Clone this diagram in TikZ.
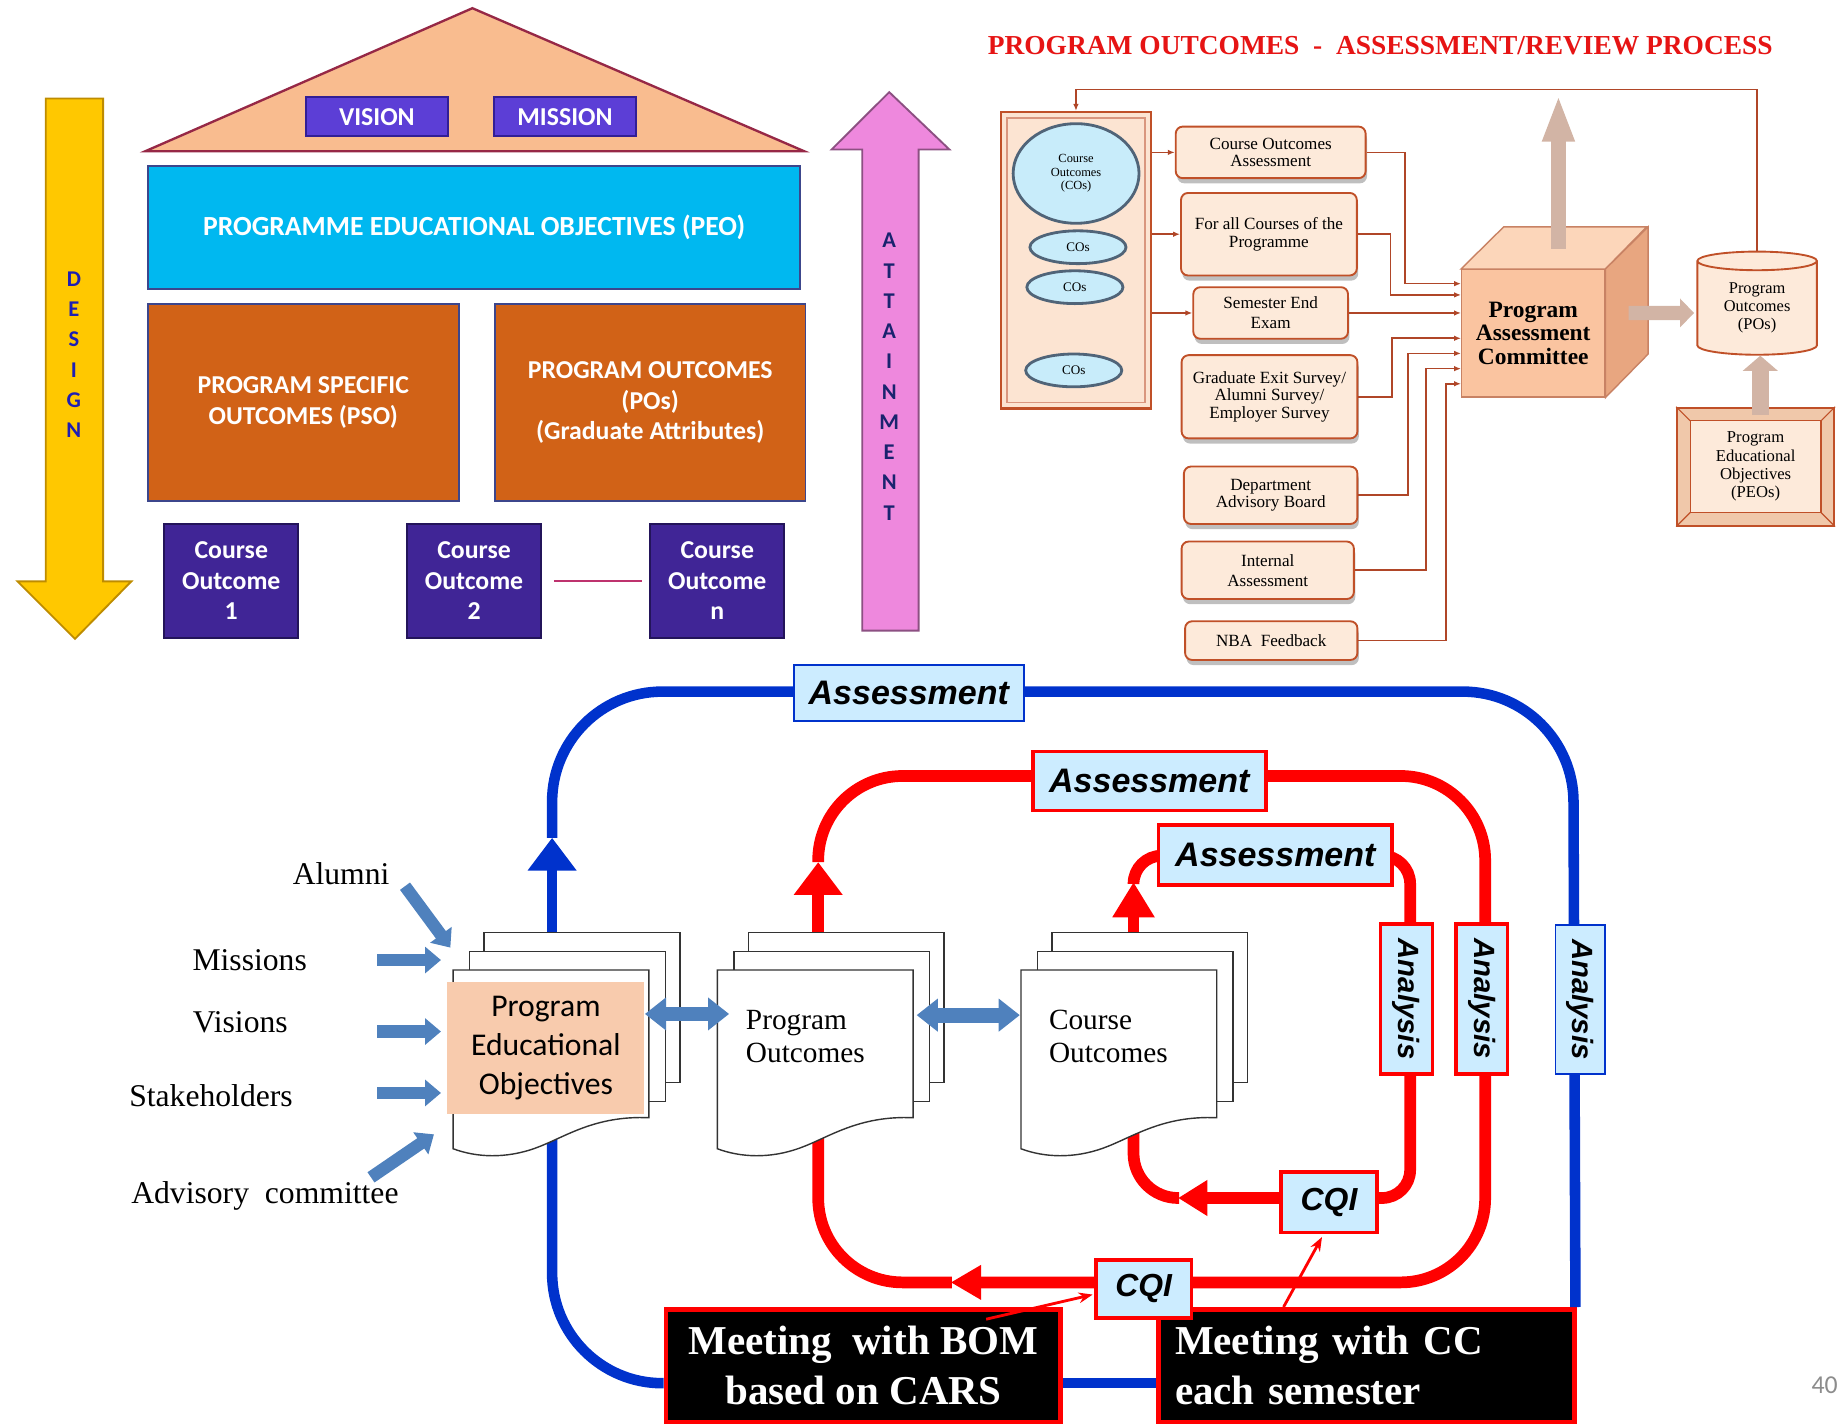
\documentclass[tikz,border=0pt]{standalone}
\usepackage{fontspec}
\setmainfont{Liberation Serif}
\setsansfont{Liberation Sans}
\newfontfamily\calibri{Carlito}
\usetikzlibrary{positioning, arrows.meta, shapes.geometric, calc, shadows}

\definecolor{roofpeach}{RGB}{249,188,143}
\definecolor{roofedge}{RGB}{150,40,70}
\definecolor{vmpurple}{RGB}{92,62,214}
\definecolor{vmedge}{RGB}{50,30,150}
\definecolor{peocyan}{RGB}{0,184,240}
\definecolor{outorange}{RGB}{209,98,23}
\definecolor{codeep}{RGB}{64,37,150}
\definecolor{coedge}{RGB}{35,20,90}
\definecolor{houseedge}{RGB}{60,70,140}
\definecolor{designyellow}{RGB}{255,200,0}
\definecolor{designedge}{RGB}{190,140,0}
\definecolor{designblue}{RGB}{30,30,180}
\definecolor{attpink}{RGB}{238,136,221}
\definecolor{attedge}{RGB}{140,80,130}
\definecolor{attnavy}{RGB}{25,35,110}
\definecolor{linkpink}{RGB}{190,50,110}
\definecolor{titlered}{RGB}{230,20,20}
\definecolor{boxfill}{RGB}{253,234,218}
\definecolor{boxedge}{RGB}{192,80,40}
\definecolor{flowline}{RGB}{176,70,40}
\definecolor{panelfill}{RGB}{252,228,210}
\definecolor{ellfill}{RGB}{200,236,250}
\definecolor{elledge}{RGB}{80,100,120}
\definecolor{cubefront}{RGB}{250,196,160}
\definecolor{cubetop}{RGB}{252,214,186}
\definecolor{cubeside}{RGB}{232,166,128}
\definecolor{cubeedge}{RGB}{200,130,100}
\definecolor{fatfill}{RGB}{210,180,165}
\definecolor{bevelfill}{RGB}{240,200,170}
\definecolor{loopblue}{RGB}{0,50,204}
\definecolor{loopred}{RGB}{255,0,0}
\definecolor{tagfill}{RGB}{204,236,255}
\definecolor{inblue}{RGB}{79,129,189}
\definecolor{docpeach}{RGB}{248,203,173}

% stack of three pages, front page top left at (#2,#3)
\newcommand{\docstack}[3]{%
  \begin{scope}[shift={(#2,#3)}]
    \draw[page] (26.4,-32) rectangle ++(167,128);
    \draw[page] (14,-16) rectangle ++(167,128);
    \draw[page] (0,0) -- (167,0) -- (167,126) .. controls (120,124) and (95,143) .. (70,152)
        .. controls (45,161) and (20,160) .. (0,152.5) -- cycle;
    \coordinate (#1) at (0,64);
  \end{scope}}

\begin{document}
\begin{tikzpicture}[
    x=0.5pt, y=-0.5pt,
    hbox/.style={draw=houseedge, line width=0.8pt, text=white, align=center, inner sep=0pt,
        font=\calibri\bfseries\fontsize{11}{13}\selectfont},
    vmbox/.style={hbox, fill=vmpurple, draw=vmedge, minimum width=60.5pt, minimum height=16.5pt},
    peobar/.style={hbox, fill=peocyan, minimum width=278pt, minimum height=52.5pt,
        font=\calibri\bfseries\fontsize{11.8}{13}\selectfont},
    outbox/.style={hbox, fill=outorange, minimum width=132.5pt, minimum height=84pt},
    cobox/.style={hbox, fill=codeep, draw=coedge, minimum width=57.2pt, minimum height=48.8pt},
    letter/.style={font=\calibri\bfseries\fontsize{9.6}{10}\selectfont, inner sep=0pt},
    flowbox/.style={draw=boxedge, fill=boxfill, line width=0.8pt, rounded corners=3pt, align=center,
        inner sep=0pt, font=\fontsize{7.3}{7.6}\selectfont,
        drop shadow={shadow xshift=0.6pt, shadow yshift=-2.2pt, opacity=0.5}},
    conn/.style={draw=flowline, line width=0.7pt, -{Latex[length=3pt,width=2.4pt]}},
    coell/.style={ellipse, draw=elledge, line width=1.2pt, fill=ellfill, inner sep=0pt, align=center,
        font=\fontsize{5.6}{6}\selectfont},
    fatarr/.style={draw=fatfill, line width=6.5pt},
    src/.style={font=\fontsize{13.5}{16}\selectfont},
    inarr/.style={draw=inblue, line width=5.3pt, -{Triangle[width=11pt,length=6.8pt]}},
    dblarr/.style={draw=inblue, line width=6.3pt,
        {Triangle[width=13.5pt,length=9pt]}-{Triangle[width=13.5pt,length=9pt]}},
    page/.style={draw=black!80, fill=white, line width=0.6pt},
    doctext/.style={align=left, inner sep=0pt, font=\fontsize{12.5}{14}\selectfont},
    blueloop/.style={draw=loopblue, line width=4.5pt},
    redloop/.style={draw=loopred, line width=5pt},
    tag/.style={fill=tagfill, inner sep=0pt, font=\sffamily\bfseries\itshape\fontsize{14.5}{15}\selectfont},
    bluetag/.style={tag, draw=loopblue, line width=0.8pt},
    redtag/.style={tag, draw=loopred, line width=1.6pt},
    meeting/.style={fill=black, draw=loopred, line width=2pt, text=white, inner sep=0pt,
        font=\bfseries\fontsize{17.5}{21.5}\selectfont},
    thinred/.style={draw=loopred, line width=1.2pt, -{Stealth[length=6pt,width=4.5pt]}}
]
\useasboundingbox (0,0) rectangle (1568,1215);

    % --- House of outcomes ---
    \draw[draw=roofedge, fill=roofpeach, line width=1pt] (124,129) -- (403,7) -- (686,129) -- cycle;
    \node[vmbox] (vision) at (321.5,99.5) {VISION};
    \node[vmbox] (mission) at (482,99.5) {MISSION};
    \node[peobar] (peo) at (404.5,194.2) {PROGRAMME EDUCATIONAL OBJECTIVES (PEO)};
    \node[outbox] (pso) at (258.7,343.4) {PROGRAM SPECIFIC\\OUTCOMES (PSO)};
    \node[outbox] (pos) at (554.7,343.4) {PROGRAM OUTCOMES\\(POs)\\(Graduate Attributes)};
    \node[cobox] (co1) at (197.3,495.6) {Course\\Outcome\\1};
    \node[cobox] (co2) at (404.4,495.6) {Course\\Outcome\\2};
    \node[cobox] (con) at (611.9,495.6) {Course\\Outcome\\n};
    \draw[draw=linkpink, line width=1.2pt, shorten <=5pt, shorten >=3pt] (co2) -- (con);

    % Design (down) and Attainment (up)
    \draw[draw=designedge, fill=designyellow, line width=0.8pt]
        (39,84) -- (88,84) -- (88,496) -- (112,496) -- (64,545) -- (15,496) -- (39,496) -- cycle;
    \foreach \ch [count=\i from 0] in {D,E,S,I,G,N}
        \node[letter, text=designblue] (design\i) at (63,238.3+25.7*\i) {\ch};
    \draw[draw=attedge, fill=attpink, line width=0.8pt]
        (735.6,538) -- (783.7,538) -- (783.7,127.5) -- (809.9,127.5) -- (758.6,78.6)
        -- (709.5,127.5) -- (735.6,127.5) -- cycle;
    \foreach \ch [count=\i from 0] in {A,T,T,A,I,N,M,E,N,T}
        \node[letter, text=attnavy] (attain\i) at (758.6,205.3+25.8*\i) {\ch};

    % --- Assessment / review process ---
    \node[font=\bfseries\fontsize{11.7}{12}\selectfont, text=titlered] (title) at (1177.5,38.8)
        {PROGRAM OUTCOMES\ \ -\ \ ASSESSMENT/REVIEW PROCESS};

    \node[draw=boxedge, fill=panelfill, line width=0.9pt, minimum width=64pt, minimum height=126.5pt] (panel) at (917.9,222) {};
    \draw[draw=boxedge!60, line width=0.5pt] ($(panel.north west)+(6,6)$) rectangle ($(panel.south east)+(-6,-6)$);
    \node[coell, minimum width=53.7pt, minimum height=42.5pt, font=\fontsize{5.3}{5.8}\selectfont] (cobig) at (918,148) {Course\\Outcomes\\(COs)};
    \node[coell, minimum width=41pt, minimum height=14pt] (cos1) at (919.6,210.9) {COs};
    \node[coell, minimum width=41pt, minimum height=14pt] (cos2) at (917,245) {COs};
    \node[coell, minimum width=41pt, minimum height=14pt] (cos3) at (916,316) {COs};

    \node[flowbox, minimum width=81pt, minimum height=22pt] (coassess) at (1084,130) {Course Outcomes\\Assessment};
    \node[flowbox, minimum width=75pt, minimum height=35.2pt] (allcourses) at (1082.5,199.8) {For all Courses of the\\Programme};
    \node[flowbox, minimum width=66pt, minimum height=22pt, font=\fontsize{7.3}{8.6}\selectfont] (semexam) at (1084,267) {Semester End\\Exam};
    \node[flowbox, minimum width=75pt, minimum height=35.5pt] (survey) at (1083,338.5) {Graduate Exit Survey/\\Alumni Survey/\\Employer Survey};
    \node[flowbox, minimum width=74pt, minimum height=24.5pt] (advboard) at (1084,422.5) {Department\\Advisory Board};
    \node[flowbox, minimum width=73.5pt, minimum height=24.5pt, font=\fontsize{7.3}{8.6}\selectfont] (internal) at (1081.5,486.5) {Internal\\Assessment};
    \node[flowbox, minimum width=73.5pt, minimum height=16.5pt] (nba) at (1084.5,546.5) {NBA\ \ Feedback};

    % Program Assessment Committee (cube)
    \node[draw=cubeedge, fill=cubefront, line width=0.6pt, minimum width=61pt, minimum height=54.25pt,
        inner sep=0pt, align=center, font=\bfseries\fontsize{10}{10}\selectfont] (pac) at (1308,284.3)
        {Program\\Assessment\\Committee};
    \draw[draw=cubeedge, fill=cubetop, line width=0.6pt] (pac.north west) -- ++(36.4,-35.9) -- ++(122,0) -- (pac.north east) -- cycle;
    \draw[draw=cubeedge, fill=cubeside, line width=0.6pt] (pac.north east) -- ++(36.4,-35.9) -- ++(0,108.5) -- (pac.south east) -- cycle;

    \draw[conn] (panel.east |- coassess.west) -- (coassess.west);
    \draw[conn] (panel.east |- allcourses.west) -- (allcourses.west);
    \draw[conn] (panel.east |- semexam.west) -- (semexam.west);
    \draw[conn] (coassess.east) -- ++(33,0) |- ($(pac.west)+(0,-42.3)$);
    \draw[conn] (allcourses.east) -- ++(28,0) |- ($(pac.west)+(0,-32.7)$);
    \draw[conn] (semexam.east) -- (semexam.east -| pac.west);
    \draw[conn] (survey.east) -- ++(28.6,0) |- ($(pac.west)+(0,4.3)$);
    \draw[conn] (advboard.east) -- ++(42.6,0) |- ($(pac.west)+(0,17.2)$);
    \draw[conn] (internal.east) -- ++(60.6,0) |- ($(pac.west)+(0,30.2)$);
    \draw[conn] (nba.east) -- ++(74.6,0) |- ($(pac.west)+(0,43.1)$);

    % Program outcomes store and PEOs
    \node[cylinder, shape border rotate=90, aspect=0.28, draw=boxedge, fill=boxfill, line width=0.8pt,
        minimum width=51pt, minimum height=44pt, inner sep=0pt, align=center,
        font=\fontsize{7}{7.7}\selectfont] (pocyl) at (1499,263) {Program\\Outcomes\\(POs)};
    \node[draw=boxedge, fill=bevelfill, line width=0.8pt, minimum width=67pt, minimum height=50.3pt] (peos) at (1497.7,398.1) {};
    \draw[draw=boxedge, fill=boxfill, line width=0.5pt] ($(peos.north west)+(12,12)$) rectangle ($(peos.south east)+(-12,-12)$);
    \foreach \a/\dx/\dy in {north west/12/12, north east/-12/12, south west/12/-12, south east/-12/-12}
        \draw[draw=boxedge, line width=0.5pt] (peos.\a) -- ++(\dx,\dy);
    \node[align=center, inner sep=0pt, font=\fontsize{7.1}{7.85}\selectfont] (peostext) at (peos) {Program\\Educational\\Objectives\\(PEOs)};

    \draw[fatarr, -{Triangle[width=12.5pt,length=20pt]}] ($(pac.north)+(21.5,-17.3)$) -- ++(0,-131.3);
    \draw[fatarr, line width=6pt, -{Triangle[width=12pt,length=6pt]}] ($(pac.east)+(19.7,-17.3)$) -- ($(pocyl.west)+(-2,4)$);
    \draw[fatarr, line width=7pt, -{Triangle[width=14.7pt,length=6.5pt]}] ($(peos.north)+(4,7)$) -- ($(pocyl.south)+(2.7,0)$);
    \draw[conn] (pocyl.north) |- ($(panel.north)+(0,-18.4)$) -- (panel.north);

    % --- Assessment loops ---
    \coordinate (peodoctop) at (471,808);
    \coordinate (peodocbot) at (471,965);
    \coordinate (podoctop) at (698,808);
    \coordinate (podocbot) at (698,965);
    \coordinate (codoctop) at (967,808);
    \coordinate (codocbot) at (967,962);

    \node[meeting, minimum width=168.3pt, minimum height=48pt, align=center] (bom) at (736.4,1165)
        {Meeting\ \ with BOM\\based on CARS};
    \node[meeting, text width=163.3pt, inner xsep=7pt, minimum height=48pt, align=left] (cc) at (1165.7,1165)
        {Meeting with CC\\each semester};

    % outer (blue)
    \coordinate (bluetip) at (471,714.7);
    \draw[blueloop, -{Triangle[width=20pt,length=14pt]}] (peodoctop) -- (bluetip);
    \draw[blueloop, rounded corners=47pt] (bluetip) -- (471,590) -- (1342,590) -- ($(cc.north east)+(-1,0)$);
    \draw[blueloop, rounded corners=47pt] (peodocbot) -- (471,1180) -- (bom.west |- 0,1180);
    \draw[blueloop] (bom.east |- 0,1180) -- (cc.west |- 0,1180);

    % middle (red)
    \coordinate (redtip) at (698,735.5);
    \draw[redloop, -{Triangle[width=20pt,length=14pt]}] (podoctop) -- (redtip);
    \draw[redloop, rounded corners=36pt, -{Triangle[width=14pt,length=13pt]}]
        (redtip) -- (698,662) -- (1267,662) -- (1267,1094) -- (811,1094);
    \draw[redloop, rounded corners=36pt] (812,1094) -- (698,1094) -- (podocbot);

    % inner (red)
    \coordinate (intip) at (967,752.5);
    \draw[redloop, -{Triangle[width=17pt,length=15pt]}] (codoctop) -- (intip);
    \draw[redloop, rounded corners=12pt, -{Triangle[width=14.5pt,length=12.5pt]}]
        (intip) -- (967,730) -- (1203,730) -- (1203,1022) -- (1005,1022);
    \draw[redloop, rounded corners=19pt] (1006,1022) -- (967,1022) -- (codocbot);

    % loop labels
    \node[bluetag, minimum width=98.2pt, minimum height=23.8pt] (bassess) at (775.3,591) {Assessment};
    \node[bluetag, rotate=-90, minimum width=63.5pt, minimum height=21pt, font=\sffamily\bfseries\itshape\fontsize{12.5}{13}\selectfont] (banalysis) at (1348,852.5) {Analysis};
    \node[redtag, minimum width=99.5pt, minimum height=25.2pt] (rassess) at (980.5,666.3) {Assessment};
    \node[redtag, minimum width=99.8pt, minimum height=25.3pt] (iassess) at (1088,729.4) {Assessment};
    \node[redtag, rotate=-90, minimum width=64pt, minimum height=22pt, font=\sffamily\bfseries\itshape\fontsize{12.5}{13}\selectfont] (ranalysis) at (1264,852) {Analysis};
    \node[redtag, rotate=-90, minimum width=64.2pt, minimum height=22.2pt, font=\sffamily\bfseries\itshape\fontsize{12.5}{13}\selectfont] (ianalysis) at (1199.9,852.3) {Analysis};
    \node[redtag, minimum width=40.8pt, minimum height=25.9pt, font=\sffamily\bfseries\itshape\fontsize{13.6}{14}\selectfont] (icqi) at (1133.8,1025.6) {CQI};
    \node[redtag, minimum width=40.8pt, minimum height=24.7pt, font=\sffamily\bfseries\itshape\fontsize{13.6}{14}\selectfont] (rcqi) at (975.6,1099.4) {CQI};

    \draw[thinred] ($(bom.north east)+(-65.4,10.4)$) -- ($(rcqi.west)+(-1,5)$);
    \draw[thinred] ($(cc.north west)+(108.6,0)$) -- ($(icqi.south)+(-6,2.2)$);

    % --- Documents ---
    \docstack{peodoc}{386.6}{827.5}
    \docstack{podoc}{612}{827.5}
    \docstack{codoc}{871}{827.5}
    \node[fill=docpeach, minimum width=84.1pt, minimum height=56pt, inner sep=0pt, align=center,
        font=\calibri\fontsize{13.5}{16.5}\selectfont] (peobox) at (465.7,894) {Program\\Educational\\Objectives};
    \node[doctext, anchor=west] (potext) at (636,884) {Program\\Outcomes};
    \node[doctext, anchor=west] (cotext) at (894.5,884) {Course\\Outcomes};
    \draw[dblarr] (peobox.east |- 0,865) -- ($(podoc |- 0,865)+(10,0)$);
    \draw[dblarr] ($(podoc |- 0,866)+(170,0)$) -- ($(codoc |- 0,866)+(-1,0)$);

    % --- Inputs ---
    \node[src] (alumni) at (291,745) {Alumni};
    \node[src] (missions) at (213,819) {Missions};
    \node[src] (visions) at (205,872) {Visions};
    \node[src] (stake) at (180,935) {Stakeholders};
    \node[src] (advisory) at (226,1020) {Advisory\ \ committee};
    \coordinate (talumni) at (345.5,756);
    \coordinate (tmissions) at (322,819);
    \coordinate (tvisions) at (322,880);
    \coordinate (tstake) at (322,932.4);
    \coordinate (tadvisory) at (316.5,1004.4);
    \draw[inarr] (talumni) -- ($(peobox.north west)+(3,-29.2)$);
    \draw[inarr] (tmissions) -- ($(tmissions -| peobox.west)+(-5,0)$);
    \draw[inarr] (tvisions) -- ($(tvisions -| peobox.west)+(-5,0)$);
    \draw[inarr] (tstake) -- ($(tstake -| peobox.west)+(-5,0)$);
    \draw[inarr] (tadvisory) -- ($(peobox.south west)+(-11,17.3)$);

    \node[anchor=west, text=black!45, font=\calibri\fontsize{11}{11}\selectfont, inner sep=0pt] (pagenum) at (1545,1182) {40};

\end{tikzpicture}
\end{document}
